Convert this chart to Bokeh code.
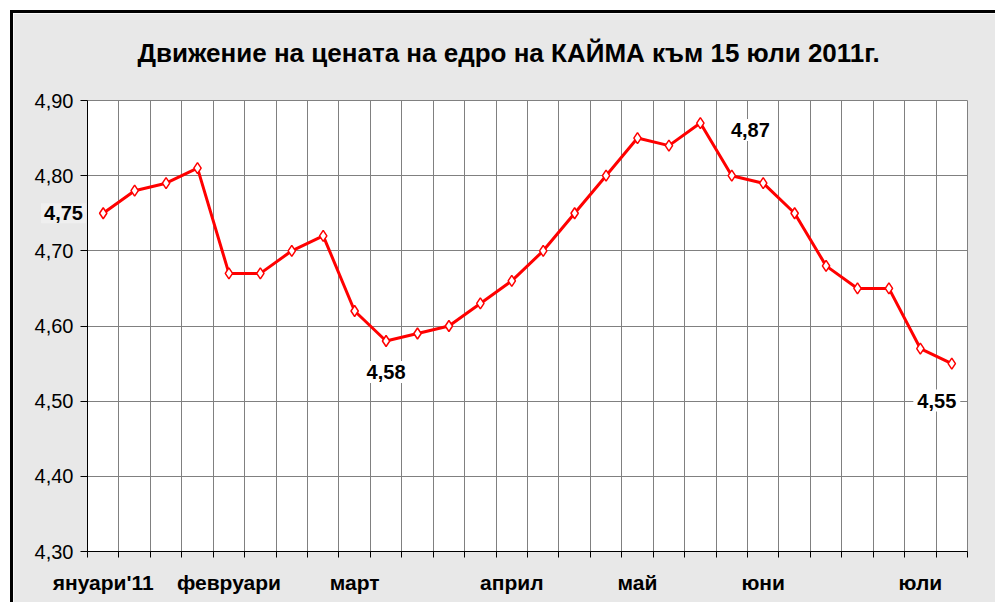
from bokeh.plotting import figure
from bokeh.models import FixedTicker, Label, ColumnDataSource
from bokeh.embed import file_html
from bokeh.resources import INLINE

# ---- data ----
title_text = "Движение на цената на едро на КАЙМА към 15 юли 2011г."
prices = [4.75, 4.78, 4.79, 4.81, 4.67, 4.67, 4.70, 4.72, 4.62, 4.58,
          4.59, 4.60, 4.63, 4.66, 4.70, 4.75, 4.80, 4.85, 4.84, 4.87,
          4.80, 4.79, 4.75, 4.68, 4.65, 4.65, 4.57, 4.55]
month_labels = ["януари'11", "февруари", "март", "април", "май", "юни", "юли"]
month_positions = [0, 4, 8, 13, 17, 21, 26]
y_ticks = [4.30, 4.40, 4.50, 4.60, 4.70, 4.80, 4.90]
y_tick_labels = ["4,30", "4,40", "4,50", "4,60", "4,70", "4,80", "4,90"]
# annotated points: (index, text, dx px, dy px)
annotations = [(9, "4,58", 0, -31), (19, "4,87", 50, -7), (27, "4,55", -15, -37)]
first_label = "4,75"

x = list(range(len(prices)))
src = ColumnDataSource(dict(x=x, y=prices))

FONT = "Liberation Sans"

p = figure(width=985, height=592, output_backend="svg", toolbar_location=None,
           x_range=(-0.5, len(prices) - 0.5), y_range=(4.30, 4.90),
           min_border_left=74, min_border_right=31, min_border_top=87,
           min_border_bottom=54)
p.styles = {"border-left": "3px solid black", "border-top": "3px solid black",
            "margin-left": "10px", "margin-top": "10px"}

# title
p.title.text = title_text
p.title.align = "left"
p.title.offset = 50
p.title.standoff = 25
p.title.text_font = FONT
p.title.text_font_style = "bold"
p.title.text_font_size = "26px"
p.title.text_color = "black"

p.background_fill_color = "white"
p.border_fill_color = "#e8e8e8"
p.outline_line_color = "#808080"
p.outline_line_width = 1

# x axis: labels at month positions, ticks at category boundaries
boundaries = [i - 0.5 for i in range(len(prices) + 1)]
p.xaxis.ticker = FixedTicker(ticks=month_positions, minor_ticks=boundaries)
p.xaxis.major_label_overrides = {pos: lab for pos, lab in zip(month_positions, month_labels)}
p.xaxis.major_tick_line_color = None
p.xaxis.minor_tick_line_color = "black"
p.xaxis.minor_tick_out = 6
p.xaxis.minor_tick_in = 0
p.xaxis.axis_line_color = "black"
p.xaxis.major_label_text_font = FONT
p.xaxis.major_label_text_font_style = "bold"
p.xaxis.major_label_text_font_size = "21px"
p.xaxis.major_label_text_color = "black"
p.xaxis.major_label_standoff = 13

p.xgrid.grid_line_color = None
p.xgrid.minor_grid_line_color = "#808080"
p.xgrid.minor_grid_line_width = 1

# y axis
p.yaxis.ticker = FixedTicker(ticks=y_ticks, minor_ticks=[])
p.yaxis.major_label_overrides = {t: l for t, l in zip(y_ticks, y_tick_labels)}
p.yaxis.major_tick_out = 7
p.yaxis.major_tick_in = 0
p.yaxis.major_tick_line_color = "black"
p.yaxis.axis_line_color = "black"
p.yaxis.major_label_text_font = FONT
p.yaxis.major_label_text_font_size = "20px"
p.yaxis.major_label_text_color = "black"
p.yaxis.major_label_standoff = 7
p.ygrid.grid_line_color = "#808080"
p.ygrid.grid_line_width = 1

# series
p.line("x", "y", source=src, line_color="#ff0000", line_width=3)
p.scatter("x", "y", source=src, marker="diamond", size=11, fill_color="white",
          line_color="#ff0000", line_width=1.5)

# data labels
for idx, txt, dx, dy in annotations:
    p.add_layout(Label(x=idx, y=prices[idx], text=txt, x_offset=dx, y_offset=dy,
                       text_align="center", text_baseline="middle",
                       text_font=FONT, text_font_style="bold", text_font_size="20px",
                       text_color="black", background_fill_color="white",
                       padding=4))

# first-point data label, shown beside the axis (in a side panel so it is not clipped;
# it sits between the plot area and the title, which also lifts the title)
p.add_layout(Label(x=47, x_units="canvas", y=prices[0], text=first_label,
                   text_align="center", text_baseline="middle",
                   text_font=FONT, text_font_style="bold", text_font_size="20px",
                   text_color="black", background_fill_color="#efefef", padding=3),
             "above")

open("out.html", "w").write(file_html(p, INLINE))
